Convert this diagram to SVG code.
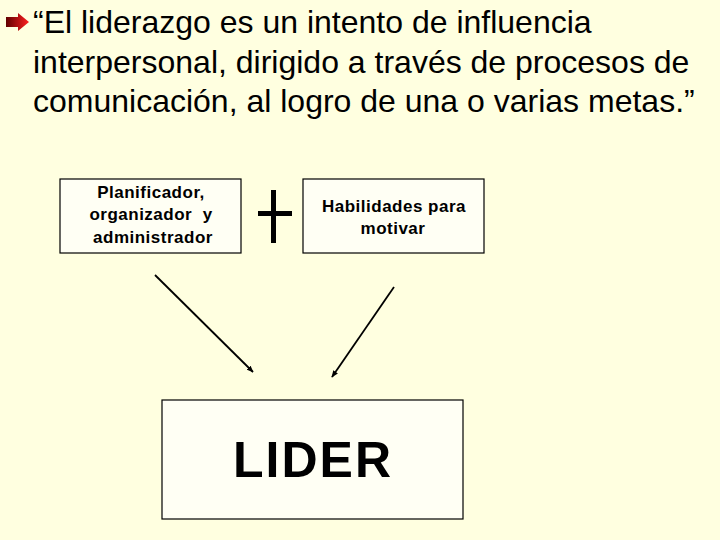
<svg xmlns="http://www.w3.org/2000/svg" width="720" height="540" viewBox="0 0 720 540">
<defs>
<style>
.title{font-family:"Liberation Sans",Arial,sans-serif;font-size:32px;fill:#000}
.box{fill:#FFFFF4;stroke:#000;stroke-width:1.2}
.lbl{font-family:"Liberation Sans",Arial,sans-serif;font-size:17px;font-weight:bold;fill:#000;text-anchor:middle;letter-spacing:0.5px;white-space:pre}
.conn{stroke:#000;stroke-width:1.8;fill:none;marker-end:url(#ah)}
</style>
<linearGradient id="bg1" x1="0" y1="0" x2="1" y2="0">
<stop offset="0" stop-color="#600000"/>
<stop offset="1" stop-color="#FF2020"/>
</linearGradient>
<marker id="ah" viewBox="0 0 10 10" refX="9" refY="5" markerWidth="7" markerHeight="7" orient="auto" markerUnits="userSpaceOnUse">
<path d="M0,1 L10,5 L0,9 Z" fill="#000"/>
</marker>
</defs>
<rect width="720" height="540" fill="#FFFFE0"/>
<g id="bullet">
<polygon points="6,17 18,17 18,13 29,22 18,31 18,27 6,27" fill="url(#bg1)"/>
</g>
<g id="title">
<text class="title" x="33" y="33">“El liderazgo es un intento de influencia</text>
<text class="title" x="33" y="73">interpersonal, dirigido a través de procesos de</text>
<text class="title" x="33" y="112">comunicación, al logro de una o varias metas.”</text>
</g>
<g id="node-planificador">
<rect class="box" x="60" y="179" width="181" height="74"/>
<text class="lbl" x="151" y="198">Planificador,</text>
<text class="lbl" x="151" y="220" xml:space="preserve">organizador  y</text>
<text class="lbl" x="153" y="243">administrador</text>
</g>
<g id="plus">
<rect x="271" y="190" width="5" height="53" fill="#000"/>
<rect x="258" y="211" width="34" height="5" fill="#000"/>
</g>
<g id="node-habilidades">
<rect class="box" x="303" y="179" width="181" height="74"/>
<text class="lbl" x="394" y="212">Habilidades para</text>
<text class="lbl" x="393" y="234">motivar</text>
</g>
<g id="node-lider">
<rect class="box" x="162" y="400" width="301" height="119"/>
<text x="313" y="477" font-family="'Liberation Sans',Arial,sans-serif" font-size="50" font-weight="bold" text-anchor="middle" letter-spacing="2">LIDER</text>
</g>
<g id="connectors">
<line class="conn" x1="155" y1="275" x2="253" y2="372"/>
<line class="conn" x1="394" y1="287" x2="332" y2="377"/>
</g>
</svg>
